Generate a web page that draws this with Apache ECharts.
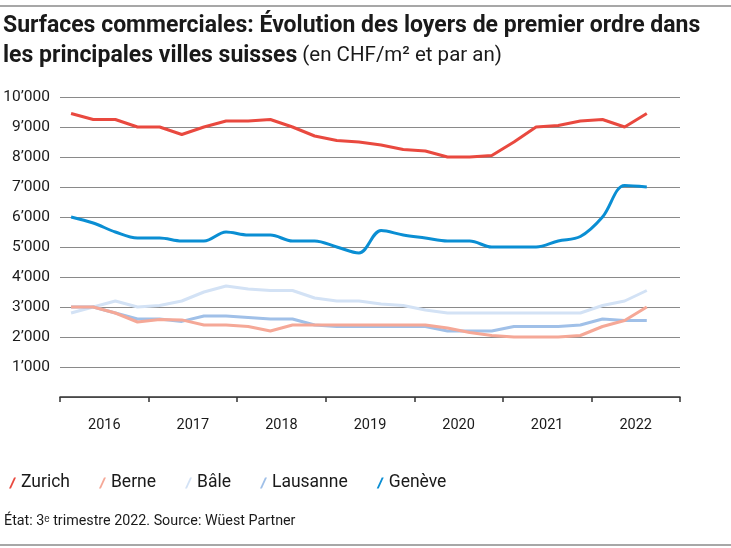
<!DOCTYPE html>
<html>
<head>
<meta charset="utf-8">
<script src="https://cdn.jsdelivr.net/npm/echarts@6/dist/echarts.min.js"></script>
<style>
html,body{margin:0;padding:0;background:#fff;}
#chart{width:731px;height:548px;}
</style>
</head>
<body>
<div id="chart"></div>
<script>
const years = ['2016','2017','2018','2019','2020','2021','2022'];
const quarters = [];
years.forEach(y => { for (let q = 1; q <= 4; q++) quarters.push(y + ' T' + q); });

const zurich   = [9450,9250,9250,9000,9000,8750,9000,9200,9200,9250,9000,8700,8550,8500,8400,8250,8200,8000,8000,8050,8500,9000,9050,9200,9250,9000,9450,null];
const berne    = [3000,3000,2800,2500,2580,2570,2400,2400,2350,2200,2400,2400,2400,2400,2400,2400,2400,2300,2150,2050,2000,2000,2000,2050,2350,2550,3000,null];
const bale     = [2800,3000,3200,3000,3050,3200,3500,3700,3600,3550,3550,3300,3200,3200,3100,3050,2900,2800,2800,2800,2800,2800,2800,2800,3050,3200,3550,null];
const lausanne = [3000,3000,2800,2600,2600,2520,2700,2700,2650,2600,2600,2400,2350,2350,2350,2350,2350,2200,2200,2200,2350,2350,2350,2400,2600,2550,2550,null];
const geneve   = [6000,5800,5500,5300,5300,5200,5200,5500,5400,5400,5200,5200,5000,4800,5550,5400,5300,5200,5200,5000,5000,5000,5200,5350,6000,7050,7000,null];

const names = ['Zurich','Berne','Bâle','Lausanne','Genève'];
const colors = ['#e9493f','#f5a897','#d3e2f5','#a0c0e8','#0a8ed3'];

const FONT = 'Roboto, "Liberation Sans", sans-serif';
const chart = echarts.init(document.getElementById('chart'), null, {renderer:'canvas'});

function fmt(v){
  if (v === 0) return '';
  return String(v).replace(/\B(?=(\d{3})+(?!\d))/g, '\u2019');
}

const mk = (name, data, color, z, smooth) => ({
  name, type:'line', data, xAxisIndex:0, yAxisIndex:0,
  showSymbol:false, symbol:'none', smooth: smooth || false, z,
  lineStyle:{color, width:3}, itemStyle:{color},
  emphasis:{disabled:true}
});

chart.setOption({
  animation:false,
  backgroundColor:'#fff',
  textStyle:{fontFamily:FONT},
  title:{
    left:3, top:11, padding:0,
    text:'{b|Surfaces commerciales: Évolution des loyers de premier ordre dans}\n{b|les principales villes suisses}{r| (en CHF/m² et par an)}',
    textStyle:{
      rich:{
        b:{fontFamily:FONT, fontWeight:'bold', fontSize:23, color:'#1a1a1a', lineHeight:30},
        r:{fontFamily:FONT, fontWeight:'normal', fontSize:20.5, color:'#1a1a1a', lineHeight:30}
      }
    }
  },
  legend:{
    left:4, top:469,
    icon:'path://M4.6,0 L6.4,0 L1.8,10 L0,10 Z',
    itemWidth:7, itemHeight:12, itemGap:29,
    textStyle:{fontFamily:FONT, fontSize:17.5, color:'#1a1a1a'},
    data:names,
    selectedMode:false
  },
  graphic:[
    {type:'line', shape:{x1:0,y1:6,x2:731,y2:6}, style:{stroke:'#8a8a8a', lineWidth:1.5}},
    {type:'line', shape:{x1:0,y1:545,x2:731,y2:545}, style:{stroke:'#8a8a8a', lineWidth:1.5}},
    {type:'text', left:4, top:514, style:{text:'État: 3ᵉ trimestre 2022. Source: Wüest Partner', font:'14.3px ' + FONT, fill:'#1a1a1a'}}
  ],
  grid:{left:60, right:51, top:97, bottom:151, containLabel:false},
  xAxis:[
    {type:'category', data:quarters, boundaryGap:true, show:false},
    {type:'category', data:years, boundaryGap:true, position:'bottom',
      axisLine:{show:true, lineStyle:{color:'#333', width:1.5}},
      axisTick:{show:true, length:5, lineStyle:{color:'#333', width:1.5}},
      axisLabel:{margin:21, fontSize:14.5, color:'#1a1a1a', fontFamily:FONT},
      splitLine:{show:false}}
  ],
  yAxis:{
    type:'value', min:0, max:10000, interval:1000,
    axisLine:{show:false}, axisTick:{show:false},
    axisLabel:{formatter:fmt, fontSize:15.5, color:'#1a1a1a', margin:10, fontFamily:FONT},
    splitLine:{show:true, lineStyle:{color:'#8a8a8a', width:1.2}}
  },
  series:[
    mk(names[0], zurich, colors[0], 5),
    mk(names[1], berne, colors[1], 4),
    mk(names[2], bale, colors[2], 2),
    mk(names[3], lausanne, colors[3], 3),
    mk(names[4], geneve, colors[4], 6, 0.35)
  ]
});
</script>
</body>
</html>
